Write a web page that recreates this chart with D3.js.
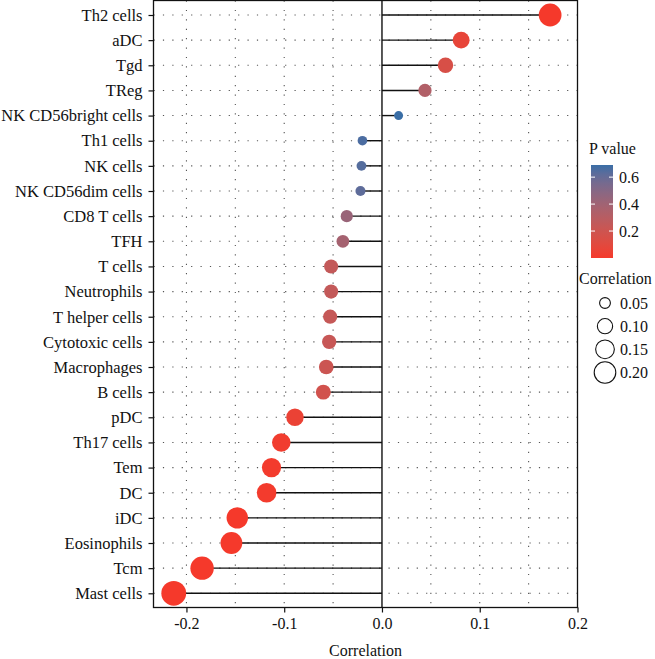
<!DOCTYPE html>
<html>
<head>
<meta charset="utf-8">
<script src="https://cdn.jsdelivr.net/npm/d3@7"></script>
<style>
  html, body { margin: 0; padding: 0; background: #fff; }
  svg { display: block; font-family: "Liberation Serif", "Times New Roman", serif; }
</style>
</head>
<body>
<svg id="chart" width="655" height="659"></svg>
<script>
// ---- data ----
const categories = ["Th2 cells","aDC","Tgd","TReg","NK CD56bright cells","Th1 cells","NK cells",
  "NK CD56dim cells","CD8 T cells","TFH","T cells","Neutrophils","T helper cells","Cytotoxic cells",
  "Macrophages","B cells","pDC","Th17 cells","Tem","DC","iDC","Eosinophils","Tcm","Mast cells"];
const correlations = [0.172,0.081,0.065,0.044,0.017,-0.020,-0.021,-0.022,-0.036,-0.040,-0.052,-0.052,
  -0.053,-0.054,-0.057,-0.060,-0.089,-0.103,-0.113,-0.118,-0.148,-0.154,-0.184,-0.213];
const pValues = [0.0001,0.07,0.15,0.33,0.69,0.66,0.64,0.62,0.43,0.38,0.25,0.25,
  0.24,0.23,0.21,0.18,0.05,0.02,0.012,0.009,0.001,0.0006,0.00004,0.000002];
const xTicks = [-0.2,-0.1,0.0,0.1,0.2];
const xGrid = [-0.2,-0.15,-0.1,-0.05,0.05,0.1,0.15];
const pTicks = [0.2,0.4,0.6];
const sizeBreaks = [0.05,0.10,0.15,0.20];

const data = categories.map((c,i)=>({cat:c, r:correlations[i], p:pValues[i]}));

// ---- layout ----
const svg = d3.select("#chart");
const panel = {left:153.5, right:577.5, top:0.5, bottom:607.5};
const FONT = "Liberation Serif, Times New Roman, serif";

const x = d3.scaleLinear().domain([-0.2337, 0.2]).range([panel.left, panel.right]);
const y = d3.scalePoint().domain(categories).range([15, 593.3]);
const pMax = d3.max(pValues), pMin = 0;
const color = d3.scaleLinear().domain([pMin, pMax]).range(["#f5392b","#3a6ea6"]).interpolate(d3.interpolateLab);
const size = d3.scalePow().exponent(0.4).domain([0, 0.213]).range([0, 12.4]);
const legendSize = d3.scaleSqrt().domain([0, 0.2]).range([0, 10.8]);

const fontColor = "#111";

// grid (dotted)
const grid = svg.append("g");
grid.selectAll("line.h").data(categories).join("line")
  .attr("x1", panel.left).attr("x2", panel.right)
  .attr("y1", d=>y(d)).attr("y2", d=>y(d))
  .attr("stroke", "#555").attr("stroke-width", 1.1).attr("stroke-dasharray", "1.2,8.2");
grid.selectAll("line.v").data(xGrid).join("line")
  .attr("x1", d=>x(d)).attr("x2", d=>x(d))
  .attr("y1", panel.top).attr("y2", panel.bottom)
  .attr("stroke", "#555").attr("stroke-width", 1.1).attr("stroke-dasharray", "1.2,8.2");

// zero line
svg.append("line")
  .attr("x1", x(0)).attr("x2", x(0)).attr("y1", panel.top).attr("y2", panel.bottom)
  .attr("stroke", "#111").attr("stroke-width", 1.4);

// lollipop stems
svg.append("g").selectAll("line").data(data).join("line")
  .attr("x1", x(0)).attr("x2", d=>x(d.r))
  .attr("y1", d=>y(d.cat)).attr("y2", d=>y(d.cat))
  .attr("stroke", "#111").attr("stroke-width", 1.4);

// points
svg.append("g").selectAll("circle").data(data).join("circle")
  .attr("cx", d=>x(d.r)).attr("cy", d=>y(d.cat))
  .attr("r", d=>size(Math.abs(d.r)))
  .attr("fill", d=>color(d.p));

// panel border
svg.append("rect")
  .attr("x", panel.left).attr("y", panel.top)
  .attr("width", panel.right-panel.left).attr("height", panel.bottom-panel.top)
  .attr("fill", "none").attr("stroke", "#111").attr("stroke-width", 1.3);

// axes
const xAxis = d3.axisBottom(x).tickValues(xTicks).tickSize(5).tickPadding(5);
const gx = svg.append("g").attr("transform", `translate(0,${panel.bottom})`).call(xAxis);
gx.attr("font-family", FONT);
gx.select(".domain").remove();
gx.selectAll("line").attr("stroke", "#111").attr("stroke-width", 1.2);
gx.selectAll("text").attr("font-size", 16).attr("fill", fontColor)
  .text(d=>d3.format(".1f")(d).replace("\u2212","-"));

const yAxis = d3.axisLeft(y).tickSize(5).tickPadding(6);
const gy = svg.append("g").attr("transform", `translate(${panel.left},0)`).call(yAxis);
gy.attr("font-family", FONT);
gy.select(".domain").remove();
gy.selectAll("line").attr("stroke", "#111").attr("stroke-width", 1.2);
gy.selectAll("text").attr("font-size", 16.5).attr("fill", fontColor);

svg.append("text").attr("x", (panel.left+panel.right)/2).attr("y", 656)
  .attr("text-anchor", "middle").attr("font-size", 16).attr("fill", fontColor).text("Correlation");

// ---- P value legend ----
svg.append("text").attr("x", 589).attr("y", 154).attr("font-size", 16).attr("fill", fontColor).text("P value");
const bar = {x:591, w:22, top:165, bottom:258};
const defs = svg.append("defs");
const grad = defs.append("linearGradient").attr("id","pgrad").attr("x1",0).attr("y1",1).attr("x2",0).attr("y2",0);
d3.range(0, 1.0001, 0.1).forEach(t=>{
  grad.append("stop").attr("offset", t).attr("stop-color", color(pMin + t*(pMax-pMin)));
});
svg.append("rect").attr("x", bar.x).attr("y", bar.top).attr("width", bar.w).attr("height", bar.bottom-bar.top)
  .attr("fill", "url(#pgrad)");
const py = d3.scaleLinear().domain([pMin, pMax]).range([bar.bottom, bar.top]);
const pt = svg.append("g");
pTicks.forEach(v=>{
  pt.append("line").attr("x1", bar.x).attr("x2", bar.x+4).attr("y1", py(v)).attr("y2", py(v))
    .attr("stroke", "#fff").attr("stroke-width", 1);
  pt.append("line").attr("x1", bar.x+bar.w-4).attr("x2", bar.x+bar.w).attr("y1", py(v)).attr("y2", py(v))
    .attr("stroke", "#fff").attr("stroke-width", 1);
  pt.append("text").attr("x", bar.x+bar.w+6).attr("y", py(v)).attr("dy", "0.35em")
    .attr("font-size", 16).attr("fill", fontColor).text(d3.format(".1f")(v));
});

// ---- Correlation size legend ----
svg.append("text").attr("x", 579).attr("y", 284).attr("font-size", 16).attr("fill", fontColor).text("Correlation");
const sizeY = d3.scalePoint().domain(sizeBreaks).range([303, 372.5]);
const sl = svg.append("g");
sizeBreaks.forEach(v=>{
  sl.append("circle").attr("cx", 605).attr("cy", sizeY(v)).attr("r", legendSize(v))
    .attr("fill", "none").attr("stroke", "#111").attr("stroke-width", 1.1);
  sl.append("text").attr("x", 620).attr("y", sizeY(v)).attr("dy", "0.35em")
    .attr("font-size", 16).attr("fill", fontColor).text(d3.format(".2f")(v));
});
</script>
</body>
</html>
